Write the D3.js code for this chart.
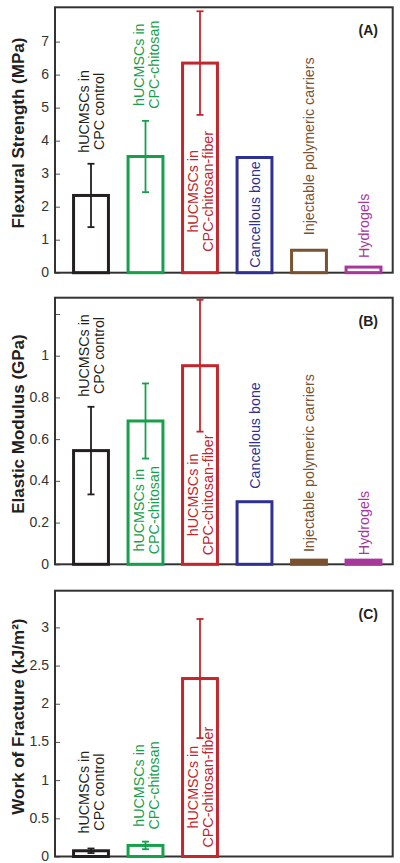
<!DOCTYPE html>
<html><head><meta charset="utf-8">
<script src="https://cdn.jsdelivr.net/npm/d3@7"></script>
<style>
body{margin:0;background:#fff}
svg{display:block;font-family:"Liberation Sans",Arial,Helvetica,sans-serif}
</style>
</head><body>
<svg id="chart" width="400" height="863"></svg>
<script>
// ---------- data ----------
const categories = ["hUCMSCs in CPC control", "hUCMSCs in CPC-chitosan", "hUCMSCs in CPC-chitosan-fiber",
  "Cancellous bone", "Injectable polymeric carriers", "Hydrogels"];
const labelLines = [["hUCMSCs in", "CPC control"], ["hUCMSCs in", "CPC-chitosan"], ["hUCMSCs in", "CPC-chitosan-fiber"],
  ["Cancellous bone"], ["Injectable polymeric carriers"], ["Hydrogels"]];
const barColors = ["#231f20", "#16a04b", "#c1272d", "#2e3192", "#7a5230", "#a8379c"];

const flexuralStrength = [2.34, 3.52, 6.35, 3.49, 0.68, 0.17];
const flexuralSD = [0.96, 1.08, 1.57, null, null, null];
const elasticModulus = [0.545, 0.687, 0.952, 0.30, 0.02, 0.02];
const elasticSD = [0.21, 0.18, 0.316, null, null, null];
const workOfFracture = [0.075, 0.145, 2.33];
const workSD = [0.03, 0.05, 0.78];

const flexuralTicks = [0, 1, 2, 3, 4, 5, 6, 7];
const flexuralTickLabels = ["0", "1", "2", "3", "4", "5", "6", "7"];
const modulusTicks = [0, 0.2, 0.4, 0.6, 0.8, 1, 1.2];
const modulusTickLabels = ["0", "0.2", "0.4", "0.6", "0.8", "1", ""];
const fractureTicks = [0, 0.5, 1, 1.5, 2, 2.5, 3];
const fractureTickLabels = ["0", "0.5", "1", "1.5", "2", "2.5", "3"];

// ---------- layout ----------
const panels = [
  {tag: "(A)", title: "Flexural Strength  (MPa)", values: flexuralStrength, sd: flexuralSD,
   ticks: flexuralTicks, tickLabels: flexuralTickLabels, max: 8.04, top: 7.3, bottom: 272.7,
   place: [["above", 11], ["above", 12], ["base", 21], ["base", 5], ["above", 15], ["above", 9]]},
  {tag: "(B)", title: "Elastic Modulus (GPa)", values: elasticModulus, sd: elasticSD,
   ticks: modulusTicks, tickLabels: modulusTickLabels, max: 1.278, top: 297.7, bottom: 564.3,
   place: [["above", 10], ["base", 10], ["base", 9], ["above", 13], ["above", 8], ["above", 5]]},
  {tag: "(C)", title: "Work of Fracture (kJ/m\u00B2)", values: workOfFracture, sd: workSD,
   ticks: fractureTicks, tickLabels: fractureTickLabels, max: 3.48, top: 590.7, bottom: 856.5,
   place: [["above", 15], ["above", 12], ["base", 9]]}
];

const left = 55, right = 392.7;
const svg = d3.select("#chart");

const x = d3.scaleBand().domain(d3.range(categories.length))
  .range([63.75, 390.75]).paddingInner(0.36).paddingOuter(0.18);

panels.forEach(p => {
  const g = svg.append("g");
  const y = d3.scaleLinear().domain([0, p.max]).range([p.bottom, p.top]);

  // axis
  const axis = d3.axisLeft(y).tickValues(p.ticks)
    .tickFormat((d, i) => p.tickLabels[i]).tickSizeInner(-5).tickSizeOuter(0).tickPadding(6);
  const ag = g.append("g").attr("transform", `translate(${left},0)`).call(axis);
  ag.select(".domain").remove();
  ag.selectAll(".tick line").attr("stroke", "#555").attr("stroke-width", 1);
  ag.selectAll(".tick text").attr("fill", "#333").attr("dy", "0.28em").style("font-size", "14px")
    .style("font-family", '"Liberation Sans",Arial,sans-serif');

  // frame
  g.append("rect").attr("x", left).attr("y", p.top)
    .attr("width", right - left).attr("height", p.bottom - p.top)
    .attr("fill", "none").attr("stroke", "#333").attr("stroke-width", 2);

  const data = p.values.map((v, i) => ({i, v, sd: p.sd[i]}));

  // bars
  g.selectAll("rect.bar").data(data).enter().append("rect").attr("class", "bar")
    .attr("x", d => x(d.i)).attr("width", x.bandwidth())
    .attr("y", d => y(d.v)).attr("height", d => y(0) - y(d.v))
    .attr("fill", d => (y(0) - y(d.v) < 5 ? barColors[d.i] : "none"))
    .attr("stroke", d => barColors[d.i]).attr("stroke-width", 3);

  // error bars
  const eb = data.filter(d => d.sd != null);
  const cx = d => x(d.i) + x.bandwidth() / 2;
  const cap = 3.5;
  eb.forEach(d => {
    const hi = Math.max(y(d.v + d.sd), p.top + 1), lo = y(d.v - d.sd);
    const eg = g.append("g").attr("stroke", barColors[d.i]).attr("stroke-width", 1.8);
    eg.append("line").attr("x1", cx(d)).attr("x2", cx(d)).attr("y1", hi).attr("y2", lo);
    eg.append("line").attr("x1", cx(d) - cap).attr("x2", cx(d) + cap).attr("y1", hi).attr("y2", hi);
    eg.append("line").attr("x1", cx(d) - cap).attr("x2", cx(d) + cap).attr("y1", lo).attr("y2", lo);
  });

  // labels
  data.forEach(d => {
    const lines = labelLines[d.i];
    const [mode, gap] = p.place[d.i];
    const topY = d.sd != null ? y(d.v + d.sd) : y(d.v);
    const bottomY = mode === "above" ? topY - gap : y(0) - gap;
    const lg = g.append("g");
    const offs = lines.length === 2 ? [-7, 8] : [0];
    const texts = lines.map((t, k) => lg.append("text")
      .attr("text-anchor", "middle").attr("dy", "0.35em")
      .attr("fill", barColors[d.i]).style("font-size", "14.3px").text(t));
    const maxLen = d3.max(texts, t => t.node().getComputedTextLength());
    const midY = bottomY - maxLen / 2;
    texts.forEach((t, k) => t.attr("transform", `translate(${cx(d) + offs[k]},${midY}) rotate(-90)`));
  });

  // panel tag
  g.append("text").attr("x", 378).attr("y", p.top + 28).attr("text-anchor", "end")
    .style("font-size", "14px").style("font-weight", "bold").attr("fill", "#231f20").text(p.tag);

  // y title
  const midT = (p.top + p.bottom) / 2 - 7;
  g.append("text").attr("transform", `translate(18,${midT}) rotate(-90)`)
    .attr("text-anchor", "middle").attr("dy", "0.35em")
    .style("font-size", "17px").style("font-weight", "bold").attr("fill", "#231f20").text(p.title);
});
</script>
</body></html>
